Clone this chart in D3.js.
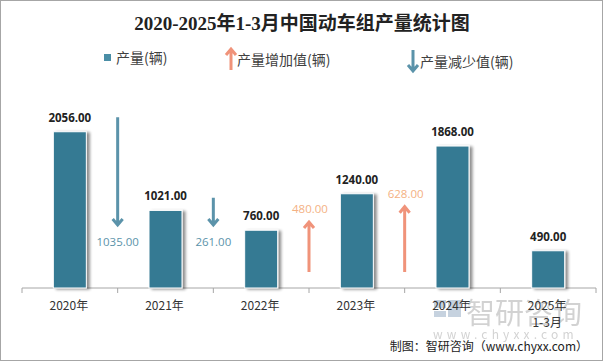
<!DOCTYPE html>
<html>
<head>
<meta charset="utf-8">
<script src="https://cdn.jsdelivr.net/npm/d3@7"></script>
<style>
  body { margin: 0; background: #fff; }
  svg { display: block; font-family: "Noto Sans CJK SC", "Open Sans", sans-serif; }
</style>
</head>
<body>
<svg id="chart" width="604" height="361"></svg>
<script>
// data
const categories = ['2020年', '2021年', '2022年', '2023年', '2024年', '2025年\n1-3月'];
const output = [2056, 1021, 760, 1240, 1868, 490];
// change between neighbouring years, placed on the tick between them
const changes = [
  { at: 1, value: 1035, dir: 'down' },
  { at: 2, value: 261, dir: 'down' },
  { at: 3, value: 480, dir: 'up' },
  { at: 4, value: 628, dir: 'up' }
];
const legendItems = ['产量(辆)', '产量增加值(辆)', '产量减少值(辆)'];

const W = 604, H = 361;
const margin = { top: 98, right: 8, bottom: 73, left: 22 };
const baseY = H - margin.bottom;

const svg = d3.select('#chart');

const defs = svg.append('defs');
const shadow = defs.append('filter').attr('id', 'barShadow')
  .attr('x', '-20%').attr('y', '-10%').attr('width', '160%').attr('height', '130%');
shadow.append('feGaussianBlur').attr('in', 'SourceAlpha').attr('stdDeviation', 1.6).attr('result', 'blur');
shadow.append('feOffset').attr('in', 'blur').attr('dx', 3).attr('dy', 1).attr('result', 'off');
shadow.append('feComponentTransfer').attr('in', 'off').attr('result', 'soft')
  .append('feFuncA').attr('type', 'linear').attr('slope', 0.45);
const merge = shadow.append('feMerge');
merge.append('feMergeNode').attr('in', 'soft');
merge.append('feMergeNode').attr('in', 'SourceGraphic');

// outer border
svg.append('rect')
  .attr('x', 0.5).attr('y', 0.5).attr('width', W - 2).attr('height', H - 1)
  .attr('fill', '#fff').attr('stroke', '#a6a6a6');

const x = d3.scaleBand()
  .domain(categories)
  .range([margin.left, W - margin.right])
  .paddingInner(0.655).paddingOuter(0.3275);

const y = d3.scaleLinear()
  .domain([0, 2500])
  .range([baseY, baseY - 190]);

// arrows are drawn a bit longer than the bars, on their own scale
const arrowLen = d3.scaleLinear().domain([0, 1000]).range([0, 104]);

// title
svg.append('text')
  .attr('x', W / 2).attr('y', 30)
  .attr('text-anchor', 'middle')
  .attr('font-family', '"Liberation Serif", "Noto Sans CJK SC", serif')
  .attr('font-weight', 'bold')
  .attr('font-size', 19)
  .attr('fill', '#222')
  .text('2020-2025年1-3月中国动车组产量统计图');

// legend
const lg = svg.append('g').attr('font-size', 14).attr('fill', '#404040');
lg.append('rect').attr('x', 104).attr('y', 54).attr('width', 7).attr('height', 7).attr('fill', '#4a8ea6');
lg.append('text').attr('x', 116).attr('y', 63).text(legendItems[0]);

function arrowPath(x0, y0, y1) {
  // line from y0 to y1 with a chevron head at y1
  const s = y1 < y0 ? 1 : -1;
  return `M${x0},${y0}L${x0},${y1}M${x0 - 5},${y1 + 6 * s}L${x0},${y1}L${x0 + 5},${y1 + 6 * s}`;
}

lg.append('path').attr('d', arrowPath(231, 70, 49))
  .attr('stroke', '#f0937a').attr('stroke-width', 3).attr('fill', 'none');
lg.append('text').attr('x', 237).attr('y', 64.5).text(legendItems[1]);
lg.append('path').attr('d', arrowPath(413, 50, 71))
  .attr('stroke', '#5b93aa').attr('stroke-width', 3).attr('fill', 'none');
lg.append('text').attr('x', 420).attr('y', 67).text(legendItems[2]);

// axis
const axis = svg.append('g')
  .attr('transform', `translate(0,${baseY})`);
axis.append('line')
  .attr('x1', margin.left).attr('x2', W - margin.right)
  .attr('stroke', '#a6a6a6');
const tickXs = d3.range(categories.length + 1).map(i =>
  i < categories.length ? x(categories[i]) - x.step() * x.paddingInner() / 2 : W - margin.right);
axis.selectAll('.tick').data(tickXs).join('line')
  .attr('x1', d => d).attr('x2', d => d).attr('y1', 0).attr('y2', 5)
  .attr('stroke', '#a6a6a6');

// watermark (behind the axis labels)
const wm = svg.append('g').attr('fill', '#c8c8c8').attr('opacity', 0.8);
wm.append('rect').attr('x', 434).attr('y', 300).attr('width', 12).attr('height', 8).attr('fill', '#b8c8d8');
wm.append('rect').attr('x', 434).attr('y', 311).attr('width', 12).attr('height', 6).attr('fill', '#b8c8d8');
wm.append('rect').attr('x', 448).attr('y', 300).attr('width', 13).attr('height', 17).attr('fill', '#b8c8d8');
wm.append('text').attr('x', 466).attr('y', 324).attr('font-size', 29).text('智研咨询');
wm.append('text').attr('x', 433).attr('y', 339).attr('font-size', 12)
  .attr('letter-spacing', 4.2).text('www.chyxx.com');

const xl = svg.append('g').attr('font-size', 12).attr('fill', '#333').attr('text-anchor', 'middle');
categories.forEach(c => {
  const t = xl.append('text').attr('x', x(c) + x.bandwidth() / 2 - 1).attr('y', baseY + 22);
  c.split('\n').forEach((line, i) => {
    t.append('tspan').attr('x', x(c) + x.bandwidth() / 2 - 1).attr('dy', i ? 17 : 0).text(line);
  });
});

// bars
svg.append('g').selectAll('rect').data(output).join('rect')
  .attr('x', (d, i) => x(categories[i]))
  .attr('y', d => y(d))
  .attr('width', x.bandwidth())
  .attr('height', d => baseY - y(d))
  .attr('fill', '#367a93')
  .attr('stroke', '#fff').attr('stroke-width', 1)
  .attr('filter', 'url(#barShadow)');

svg.append('g').selectAll('text').data(output).join('text')
  .attr('x', (d, i) => x(categories[i]) + x.bandwidth() / 2)
  .attr('y', d => y(d) - 10)
  .attr('text-anchor', 'middle')
  .attr('font-family', '"Open Sans", "DejaVu Sans", sans-serif')
  .attr('font-weight', 'bold')
  .attr('font-size', 11.5)
  .attr('fill', '#222')
  .text(d => d3.format('.2f')(d));

// change arrows
const ch = svg.append('g');
changes.forEach(c => {
  const cx = tickXs[c.at];
  const len = arrowLen(c.value);
  if (c.dir === 'down') {
    const tip = baseY - 63;
    ch.append('path').attr('d', arrowPath(cx, tip - len, tip))
      .attr('stroke', '#5b93aa').attr('stroke-width', 3).attr('fill', 'none');
    ch.append('text').attr('x', cx).attr('y', tip + 21)
      .attr('text-anchor', 'middle').attr('font-size', 11.5)
      .attr('font-family', '"Open Sans", "DejaVu Sans", sans-serif')
      .attr('fill', '#5b93aa').text(d3.format('.2f')(c.value));
  } else {
    const tail = baseY - 16;
    ch.append('path').attr('d', arrowPath(cx, tail, tail - len))
      .attr('stroke', '#f0937a').attr('stroke-width', 3).attr('fill', 'none');
    ch.append('text').attr('x', cx + 1).attr('y', tail - len - 9)
      .attr('text-anchor', 'middle').attr('font-size', 11.5)
      .attr('font-family', '"Open Sans", "DejaVu Sans", sans-serif')
      .attr('fill', '#f4b183').text(d3.format('.2f')(c.value));
  }
});

// source
svg.append('text')
  .attr('x', 588).attr('y', 351)
  .attr('text-anchor', 'end')
  .attr('font-size', 12)
  .attr('fill', '#222')
  .text('制图：智研咨询（www.chyxx.com）');
</script>
</body>
</html>
